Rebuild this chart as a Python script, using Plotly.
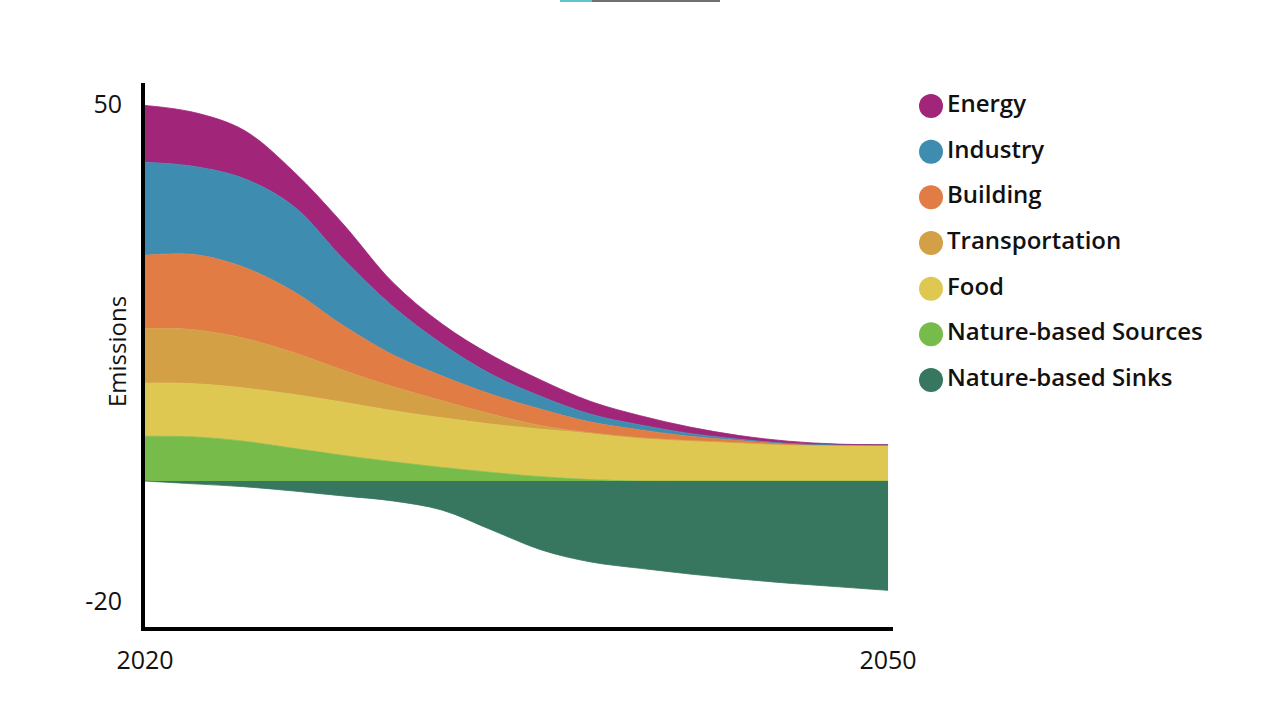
import plotly.graph_objects as go

# ---------------- data ----------------
years = [2020, 2022, 2024, 2026, 2028, 2030, 2032, 2034,
         2036, 2038, 2040, 2042, 2044, 2046, 2048, 2050]

energy    = [8.0, 7.6, 6.8, 4.9, 4.9, 3.4, 2.8, 2.7, 2.3, 1.8, 1.3, 0.9, 0.5, 0.3, 0.1, 0.0]
industry  = [13.1, 12.4, 12.5, 12.0, 9.4, 6.8, 4.5, 2.8, 1.8, 1.1, 0.7, 0.4, 0.2, 0.1, 0.0, 0.0]
building  = [10.3, 10.6, 10.0, 8.6, 6.3, 4.5, 3.5, 2.8, 2.3, 1.5, 1.1, 0.6, 0.3, 0.1, 0.0, 0.0]
transport = [7.7, 7.6, 7.0, 5.9, 4.5, 3.4, 2.4, 1.4, 0.5, 0.1, 0.0, 0.0, 0.0, 0.0, 0.0, 0.0]
food      = [7.5, 7.5, 7.5, 7.6, 7.5, 7.2, 7.0, 6.8, 6.7, 6.5, 6.1, 5.7, 5.4, 5.1, 5.1, 5.1]
nbs       = [6.3, 6.2, 5.6, 4.6, 3.6, 2.7, 1.9, 1.2, 0.6, 0.2, 0.0, 0.0, 0.0, 0.0, 0.0, 0.0]
sinks     = [0.0, -0.4, -0.8, -1.4, -2.1, -2.8, -4.1, -6.9, -9.7, -11.4, -12.3, -13.1, -13.8, -14.4, -14.9, -15.4]

categories = ["Energy", "Industry", "Building", "Transportation", "Food",
              "Nature-based Sources", "Nature-based Sinks"]
colors = ["#a1267a", "#3f8cb1", "#e07c44", "#d4a046", "#dfc852", "#77bb4a", "#37765f"]

y_tick_values = [53, -17]
y_tick_labels = ["50", "-20"]
x_tick_values = [2020, 2050]
x_tick_labels = ["2020", "2050"]

FONT = "Open Sans"

fig = go.Figure()

series = dict(zip(categories, [energy, industry, building, transport, food, nbs, sinks]))
colmap = dict(zip(categories, colors))
for name in ["Nature-based Sources", "Food", "Transportation", "Building", "Industry", "Energy"]:
    fig.add_trace(go.Scatter(
        x=years, y=series[name], name=name, stackgroup="pos", mode="lines",
        line=dict(width=0.8, color=colmap[name], shape="spline", smoothing=1.0),
        fillcolor=colmap[name], showlegend=False, hoverinfo="skip"))

fig.add_trace(go.Scatter(
    x=years, y=sinks, name="Nature-based Sinks", stackgroup="neg", mode="lines",
    line=dict(width=0.8, color=colmap["Nature-based Sinks"], shape="spline", smoothing=1.0),
    fillcolor=colmap["Nature-based Sinks"], showlegend=False, hoverinfo="skip"))

# custom legend (circles + labels) on a hidden auxiliary axis
n = len(categories)
fig.add_trace(go.Scatter(
    x=[35] * n, y=[106 + i * 45.67 for i in range(n)],
    mode="markers+text", text=categories, textposition="middle right",
    marker=dict(size=24, color=colors), cliponaxis=False,
    textfont=dict(family=FONT, size=24, color="#111111", weight=600),
    xaxis="x2", yaxis="y2", showlegend=False, hoverinfo="skip"))

fig.update_layout(
    width=1280, height=720,
    margin=dict(l=0, r=0, t=0, b=0, autoexpand=False),
    paper_bgcolor="white", plot_bgcolor="white",
    showlegend=False,
    font=dict(family=FONT, color="#111111"),
    xaxis=dict(domain=[145 / 1280, 893 / 1280], range=[2020, 2050.2],
               automargin=False,
               showgrid=False, zeroline=False, showline=True,
               linecolor="black", linewidth=4, ticks="",
               tickvals=x_tick_values, ticktext=x_tick_labels,
               tickfont=dict(family=FONT, size=25, color="#111111", weight=500),
               ticklabelstandoff=8),
    yaxis=dict(domain=[1 - 627 / 720, 1 - 83 / 720], range=[-20.56, 56.06],
               automargin=False,
               showgrid=False, zeroline=False, showline=True,
               linecolor="black", linewidth=4, ticks="",
               tickvals=y_tick_values, ticktext=y_tick_labels,
               tickfont=dict(family=FONT, size=25, color="#111111", weight=500),
               ticklabelstandoff=14),
    xaxis2=dict(domain=[0.7, 1.0], range=[0, 384], visible=False, anchor="y2",
                automargin=False),
    yaxis2=dict(domain=[0, 1], range=[720, 0], visible=False, anchor="x2",
                automargin=False),
    annotations=[dict(text="Emissions", x=116 / 1280, y=1 - 352 / 720,
                      xref="paper", yref="paper", xanchor="center", yanchor="middle",
                      showarrow=False, textangle=-90,
                      font=dict(family=FONT, size=24, color="#111111", weight=500))],
    shapes=[
        dict(type="rect", xref="paper", yref="paper", x0=560 / 1280, x1=592 / 1280,
             y0=1 - 2 / 720, y1=1, fillcolor="#5cc6cf", line=dict(width=0)),
        dict(type="rect", xref="paper", yref="paper", x0=592 / 1280, x1=720 / 1280,
             y0=1 - 2 / 720, y1=1, fillcolor="#707070", line=dict(width=0)),
    ],
)

fig.write_html("out.html")
